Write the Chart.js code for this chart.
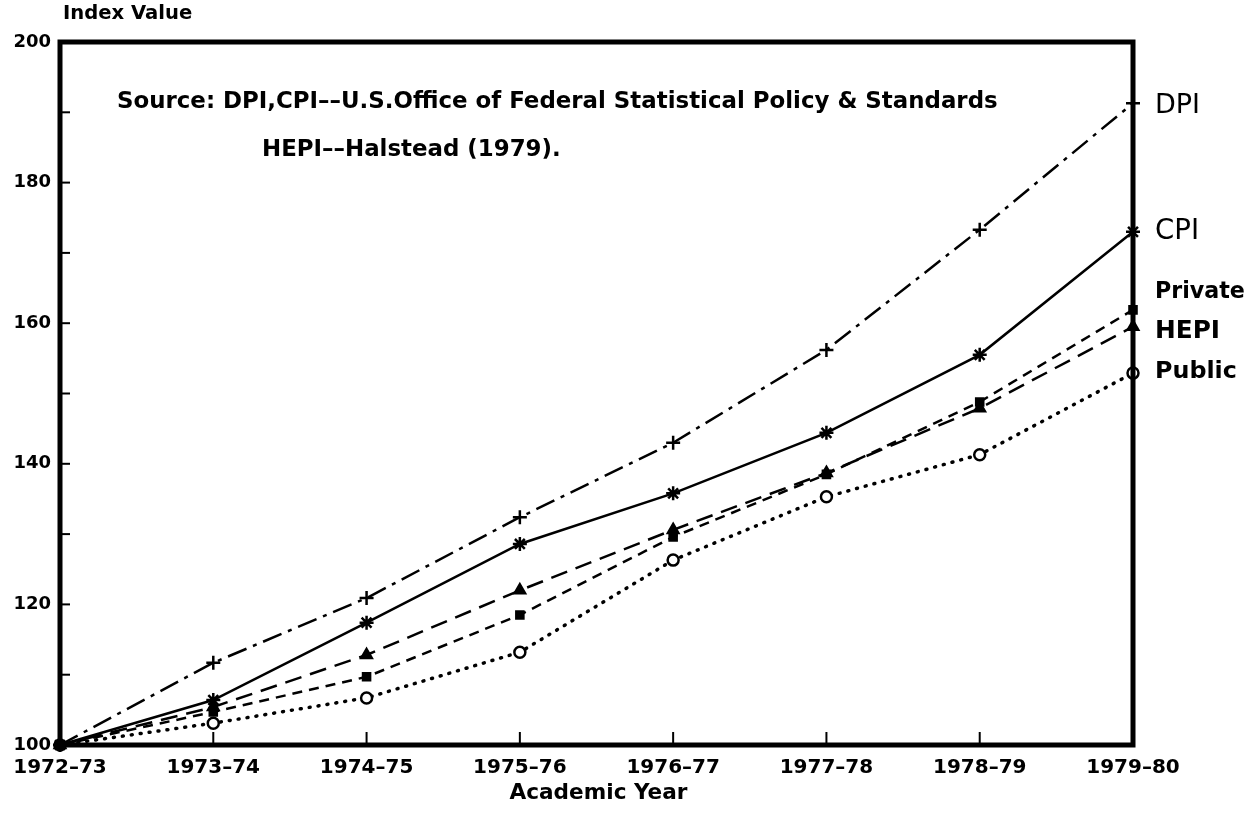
<!DOCTYPE html>
<html>
<head>
<meta charset="utf-8">
<script src="https://cdn.jsdelivr.net/npm/chart.js@4.4.1/dist/chart.umd.min.js"></script>
<style>
  body { margin: 0; background: #fff; }
  #wrap { width: 1251px; height: 829px; position: relative; }
</style>
</head>
<body>
<div id="wrap"><canvas id="indexChart"></canvas></div>
<script>
// Academic years on the x axis
const years = ['1972–73', '1973–74', '1974–75', '1975–76', '1976–77', '1977–78', '1978–79', '1979–80'];

// Index values (1972-73 = 100)
const dpiValues = [100, 111.7, 120.9, 132.4, 143.0, 156.2, 173.3, 191.3];
const cpiValues = [100, 106.4, 117.4, 128.6, 135.8, 144.4, 155.5, 173.0];
const hepiValues = [100, 105.4, 112.8, 122.0, 130.6, 138.7, 147.9, 159.5];
const privateValues = [100, 104.7, 109.7, 118.5, 129.6, 138.5, 148.8, 161.9];
const publicValues = [100, 103.1, 106.7, 113.2, 126.3, 135.3, 141.3, 152.9];

const yMin = 100;
const yMax = 200;
const yStep = 10;
const yLabelStep = 20;

const seriesNames = ['DPI', 'CPI', 'Private', 'HEPI', 'Public'];

// draw text so that it spans a given width (the scan uses a wide face)
function fitText(ctx, text, x, y, width, weight, align) {
    ctx.font = weight + ' 20px "DejaVu Sans"';
    const size = 20 * width / ctx.measureText(text).width;
    ctx.font = weight + ' ' + size.toFixed(1) + 'px "DejaVu Sans"';
    ctx.textAlign = align || 'left';
    ctx.fillText(text, x, y);
    return size;
}

// frame, inward ticks and the text around the plot
const decorPlugin = {
    id: 'decor',
    afterDraw(chart) {
        const ctx = chart.ctx;
        const a = chart.chartArea;
        const x = chart.scales.x;
        const y = chart.scales.y;
        ctx.save();
        ctx.strokeStyle = '#000';
        ctx.lineCap = 'square';

        // y ticks every 10
        ctx.lineWidth = 2;
        for (let v = yMin + yStep; v < yMax; v += yStep) {
            const py = y.getPixelForValue(v);
            ctx.beginPath();
            ctx.moveTo(a.left, py);
            ctx.lineTo(a.left + 9, py);
            ctx.stroke();
        }
        // x ticks
        for (let i = 1; i < years.length - 1; i++) {
            const px = x.getPixelForValue(i);
            ctx.beginPath();
            ctx.moveTo(px, a.bottom);
            ctx.lineTo(px, a.bottom - 12);
            ctx.stroke();
        }

        // heavy frame
        ctx.lineWidth = 5;
        ctx.strokeRect(a.left, a.top, a.right - a.left, a.bottom - a.top);

        ctx.fillStyle = '#000';
        ctx.textBaseline = 'middle';

        fitText(ctx, 'Index Value', 63, 14, 129, 'bold');
        fitText(ctx, 'Academic Year', (a.left + a.right) / 2 + 2, 793, 178, 'bold', 'center');

        const srcSize = fitText(ctx, 'Source: DPI,CPI––U.S.Office of Federal Statistical Policy & Standards', 117, 102, 880, 'bold');
        ctx.font = 'bold ' + srcSize.toFixed(1) + 'px "DejaVu Sans"';
        ctx.textAlign = 'left';
        ctx.fillText('HEPI––Halstead (1979).', 262, 150);

        // series names at the right edge
        const nameY = [106, 232, 292, 332, 372];
        const nameW = [45, 44, 90, 65, 82];
        seriesNames.forEach((n, i) => {
            fitText(ctx, n, 1155, nameY[i], nameW[i], i < 2 ? 'normal' : 'bold');
        });
        ctx.restore();
    }
};

function series(label, data, dash, style, radius, fill, width) {
    return {
        label: label,
        data: data,
        borderColor: '#000',
        borderWidth: width || 2.5,
        borderDash: dash,
        borderCapStyle: dash.length && dash[0] < 4 ? 'round' : 'butt',
        pointStyle: style,
        pointRadius: radius,
        pointBorderColor: '#000',
        pointBorderWidth: 2.5,
        pointBackgroundColor: fill,
        fill: false,
        tension: 0,
        clip: false
    };
}

new Chart(document.getElementById('indexChart').getContext('2d'), {
    type: 'line',
    data: {
        labels: years,
        datasets: [
            series('DPI', dpiValues, [20, 7, 4, 7], 'cross', 7, '#000'),
            series('CPI', cpiValues, [], 'star', 7, '#000'),
            series('HEPI', hepiValues, [17, 9], 'triangle', 6, '#000'),
            series('Private', privateValues, [10, 7], 'rect', 5, '#000'),
            series('Public', publicValues, [1, 8], 'circle', 5.5, '#fff', 3.5)
        ]
    },
    options: {
        responsive: true,
        maintainAspectRatio: false,
        animation: false,
        layout: { padding: { top: 42, right: 118, left: 0, bottom: 0 } },
        plugins: { legend: { display: false }, tooltip: { enabled: false } },
        scales: {
            x: {
                offset: false,
                grid: { display: false, drawTicks: false },
                border: { display: false },
                ticks: {
                    color: '#000',
                    font: { family: 'DejaVu Sans', size: 20, weight: 'bold' },
                    padding: 11,
                    autoSkip: false,
                    maxRotation: 0
                },
                afterFit(scale) { scale.height = 84; }
            },
            y: {
                min: yMin,
                max: yMax,
                grid: { display: false, drawTicks: false },
                border: { display: false },
                ticks: {
                    stepSize: yStep,
                    color: '#000',
                    font: { family: 'DejaVu Sans', size: 18, weight: 'bold' },
                    padding: 9,
                    callback: v => (v % yLabelStep === 0 ? v : '')
                },
                afterFit(scale) { scale.width = 60; }
            }
        }
    },
    plugins: [decorPlugin]
});
</script>
</body>
</html>
